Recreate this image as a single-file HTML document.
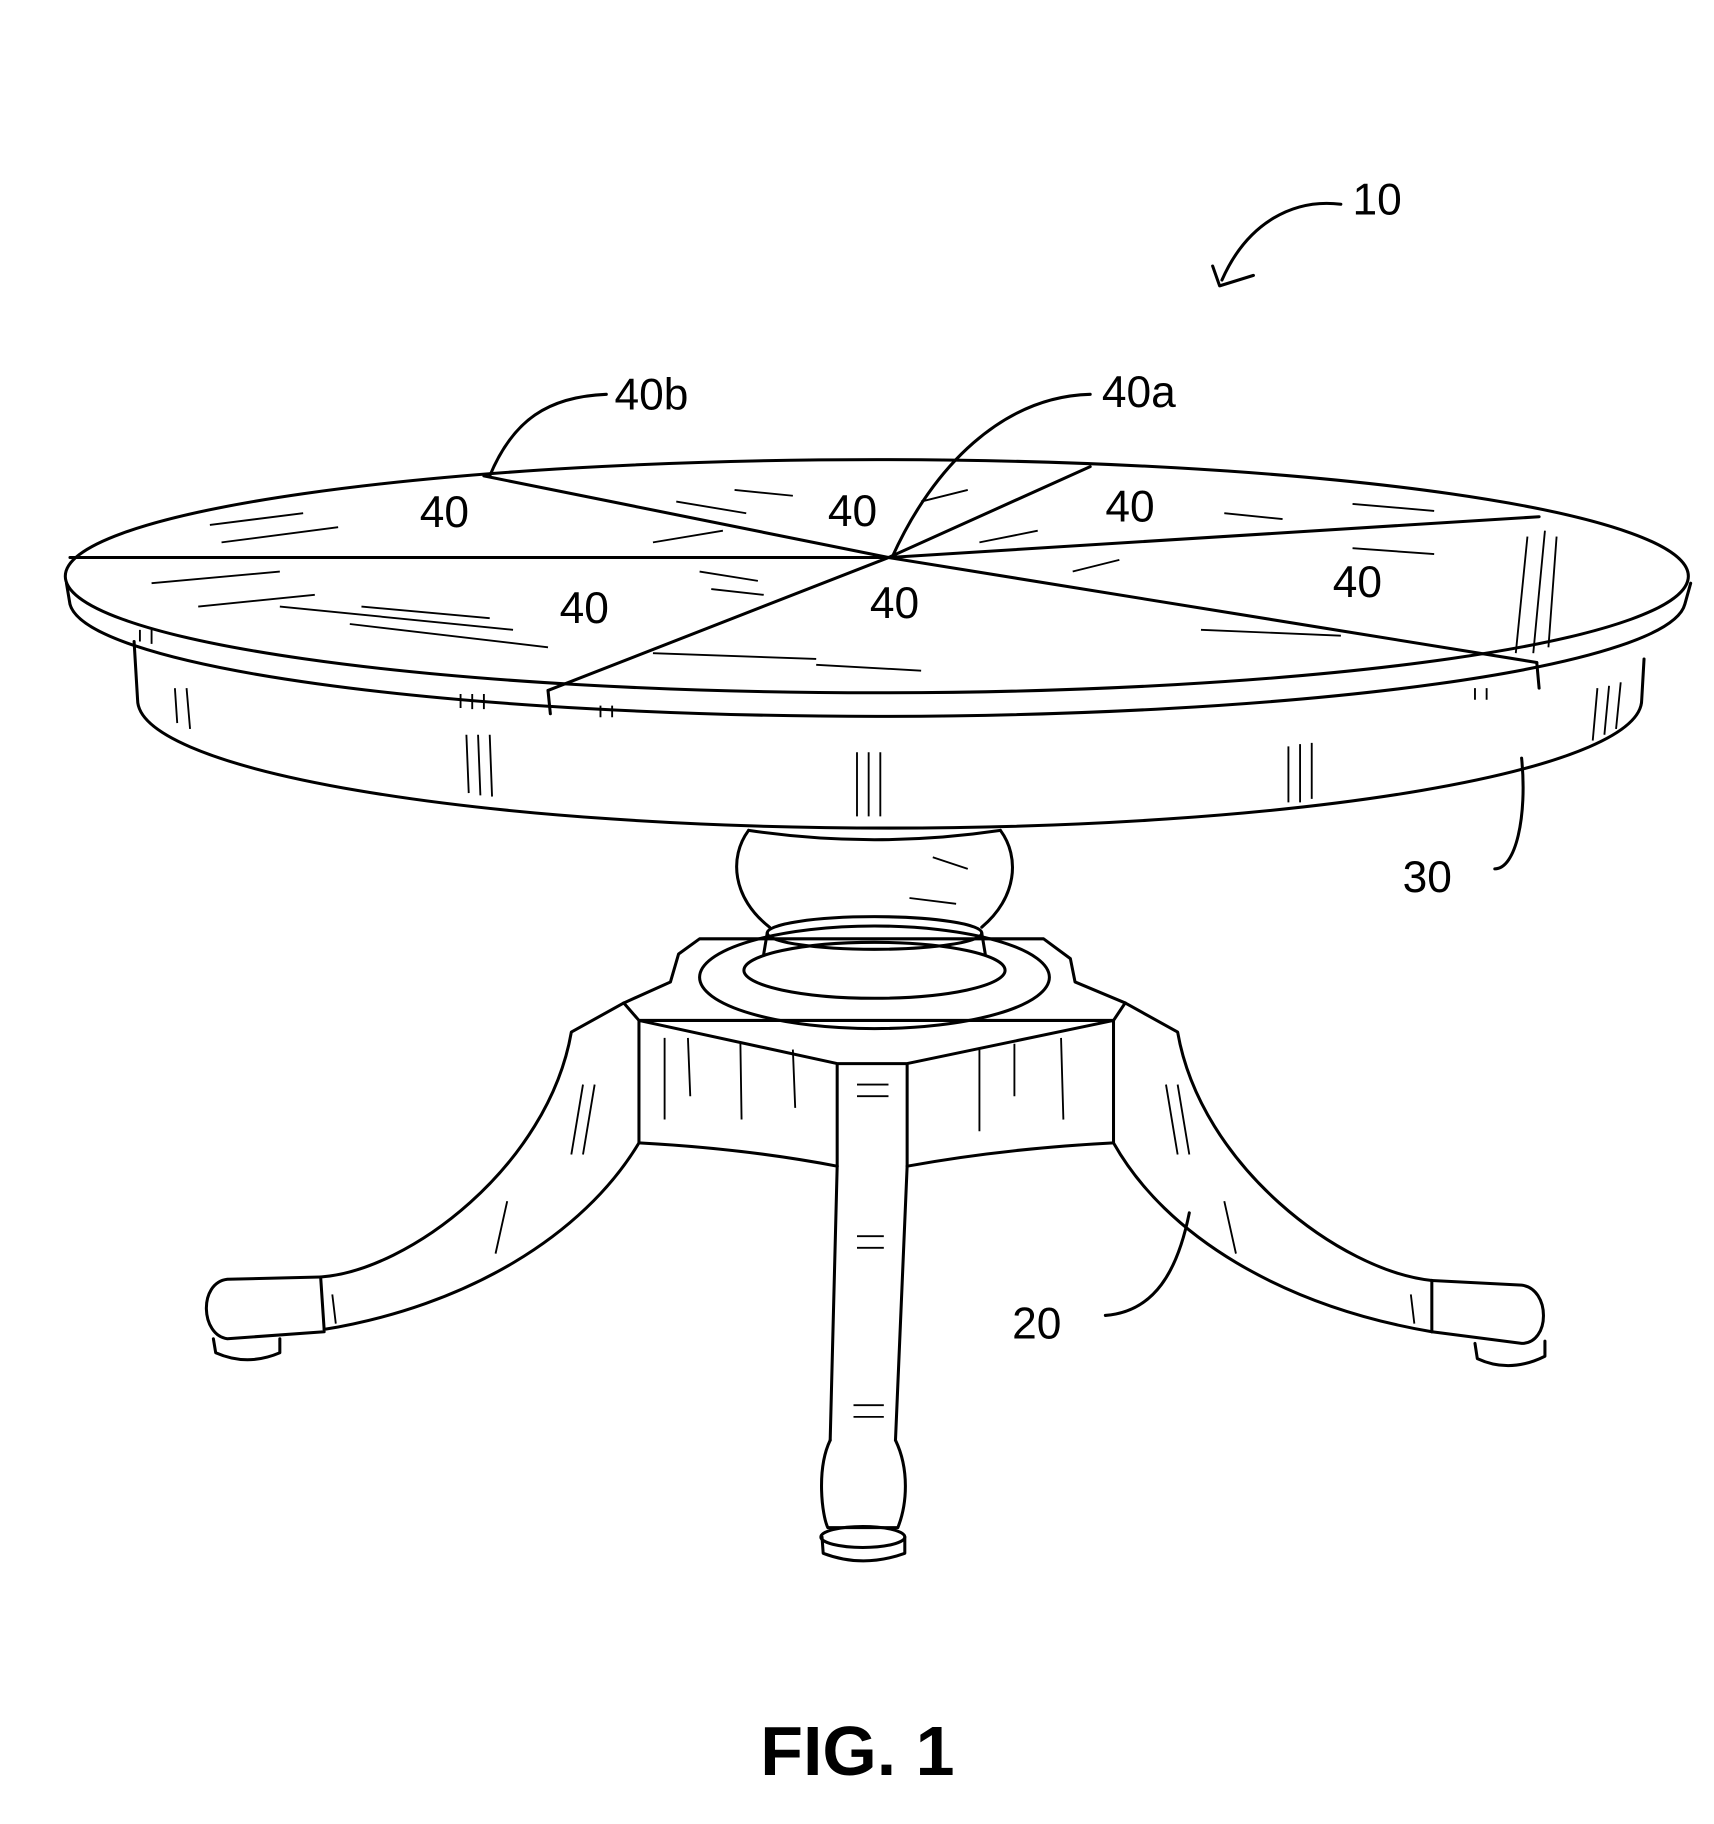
<!DOCTYPE html>
<html><head><meta charset="utf-8"><style>
html,body{margin:0;padding:0;background:#fff;}
svg{display:block;}
text{font-family:"Liberation Sans",sans-serif;fill:#000;}
</style></head><body>
<svg width="1714" height="1824" viewBox="0 0 1470 1564" xmlns="http://www.w3.org/2000/svg">
<g fill="none" stroke="#000" stroke-width="2.6" stroke-linecap="round" stroke-linejoin="round">
<!-- apron -->
<path d="M115,550 L118,600 A645,110 0 0 0 1408,600 L1410,565"/>
<!-- top edge band -->
<path d="M57,500 L60,518 A693,100 0 0 0 1445,518 L1450,500"/>
<!-- top surface -->
<ellipse cx="752" cy="494" rx="696" ry="100" fill="#fff"/>
<!-- segment lines -->
<path d="M762,478 L415,408 M762,478 L935,400 M762,478 L1320,443 M762,478 L1318,568 M762,478 L470,592 M762,478 L60,478"/>
<path d="M470,592 L472,612 M1318,568 L1320,590"/>
<!-- vase -->
<path d="M642,712 C625,735 628,770 660,795 M858,712 C875,735 872,770 842,795"/>
<path d="M642,712 Q750,728 858,712"/>
<ellipse cx="750" cy="800" rx="92" ry="14"/>
<path d="M658,800 L655,818 M842,800 L845,818"/>
<ellipse cx="750" cy="832" rx="112" ry="24"/>
<ellipse cx="750" cy="838" rx="150" ry="44"/>
<!-- platform -->
<path d="M535,860 L575,842 L582,818 L600,805 L895,805 L918,822 L922,842 L965,860"/>
<path d="M535,860 L548,875 L955,875 L965,860"/>
<path d="M548,875 L548,980 M955,875 L955,980 M718,912 L778,912 M718,912 L718,1000 M778,912 L778,1000 M548,875 L718,912 M955,875 L778,912"/>
<path d="M548,980 Q640,985 718,1000 M955,980 Q860,985 778,1000"/>
<!-- center leg -->
<path d="M718,1000 L712,1235 M778,1000 L768,1235"/>
<path d="M712,1235 C700,1260 705,1300 710,1310 L770,1310 C778,1290 780,1260 768,1235"/>
<ellipse cx="740" cy="1318" rx="36" ry="9"/>
<path d="M705,1318 L706,1332 Q740,1345 776,1332 L776,1318"/>
<!-- left leg -->
<path d="M535,860 L490,885 C470,1000 350,1090 275,1095"/>
<path d="M548,980 C500,1060 400,1120 278,1140"/>
<path d="M275,1095 L278,1140"/>
<path d="M275,1095 L195,1097 C170,1100 172,1145 195,1148 L278,1142"/>
<path d="M183,1148 L185,1160 Q212,1172 240,1160 L240,1148"/>
<!-- right leg -->
<path d="M965,860 L1010,885 C1030,1000 1150,1090 1228,1098"/>
<path d="M955,980 C1000,1060 1100,1120 1228,1142"/>
<path d="M1228,1098 L1228,1142"/>
<path d="M1228,1098 L1305,1102 C1330,1105 1330,1152 1305,1152 L1228,1142"/>
<path d="M1265,1152 L1267,1165 Q1295,1178 1325,1163 L1325,1150"/>
<!-- leaders -->
<path d="M420,408 C440,360 470,340 520,338"/>
<path d="M765,478 C800,400 860,340 935,338"/>
<path d="M1305,650 C1310,700 1300,745 1282,745"/>
<path d="M1020,1040 C1010,1090 990,1125 948,1128"/>
<path d="M1150,175 C1110,170 1070,190 1048,240"/>
<path d="M1040,228 L1046,245 L1075,236"/>
</g>
<!-- hatching -->
<g stroke="#000" stroke-width="1.6">
<path d="M180,450 L260,440 M190,465 L290,452 M130,500 L240,490 M170,520 L270,510 M240,520 L440,540 M300,535 L470,555 M310,520 L420,530 M560,465 L620,455 M600,490 L650,498 M610,505 L655,510 M580,430 L640,440 M630,420 L680,425 M790,430 L830,420 M840,465 L890,455 M920,490 L960,480 M1050,440 L1100,445 M1160,432 L1230,438 M1160,470 L1230,475 M1030,540 L1150,545 M560,560 L700,565 M700,570 L790,575 M1310,460 L1300,560 M1325,455 L1315,560 M1335,460 L1328,555"/>
<path d="M120,540 L120,550 M130,540 L130,552 M150,590 L152,620 M160,590 L163,625 M395,595 L395,607 M405,595 L405,608 M415,595 L415,608 M400,630 L402,680 M410,630 L412,682 M420,630 L422,683 M735,645 L735,700 M745,645 L745,700 M755,645 L755,700 M1105,640 L1105,688 M1115,638 L1115,688 M1125,637 L1125,685 M1370,590 L1366,635 M1380,588 L1376,630 M1390,585 L1386,625 M515,605 L515,615 M525,605 L525,615 M1265,590 L1265,600 M1275,590 L1275,600"/>
<path d="M570,890 L570,960 M590,890 L592,940 M635,895 L636,960 M680,900 L682,950 M840,900 L840,970 M870,895 L870,940 M910,890 L912,960 M735,930 L762,930 M735,940 L762,940 M735,1060 L758,1060 M735,1070 L758,1070 M732,1205 L758,1205 M732,1215 L758,1215 M510,930 L500,990 M500,930 L490,990 M1000,930 L1010,990 M1010,930 L1020,990 M435,1030 L425,1075 M1050,1030 L1060,1075 M285,1110 L288,1135 M1210,1110 L1213,1135 M800,735 L830,745 M780,770 L820,775"/>
</g>
<text x="1160" y="184" font-size="38">10</text>
<text x="527" y="351" font-size="38">40b</text>
<text x="945" y="349" font-size="38">40a</text>
<g font-size="38">
<text x="360" y="452">40</text><text x="710" y="451">40</text><text x="948" y="447">40</text>
<text x="480" y="534">40</text><text x="746" y="530">40</text><text x="1143" y="512">40</text>
<text x="1203" y="765">30</text><text x="868" y="1148">20</text>
</g>
<text x="652" y="1522" font-size="60" font-weight="bold">FIG. 1</text>
</svg>
</body></html>
